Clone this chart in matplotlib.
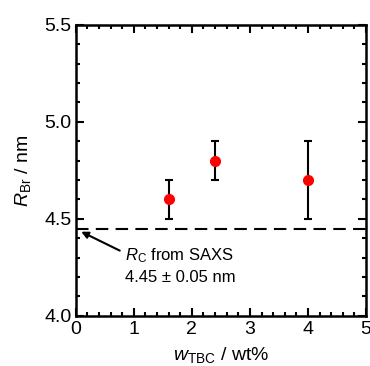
import matplotlib
matplotlib.use("Agg")
import matplotlib.pyplot as plt
from matplotlib.ticker import MultipleLocator

plt.rcParams["font.family"] = ["Liberation Sans", "DejaVu Sans"]
plt.rcParams["mathtext.fontset"] = "custom"
plt.rcParams["mathtext.it"] = "Liberation Sans:italic"
plt.rcParams["mathtext.rm"] = "Liberation Sans"

# data
w_tbc = [1.6, 2.4, 4.0]
r_br = [4.6, 4.8, 4.7]
r_err = [0.1, 0.1, 0.2]
r_c = 4.45

fig = plt.figure(figsize=(3.70, 3.66), dpi=100)
ax = fig.add_axes([0.205, 0.137, 0.784, 0.795])

ax.axhline(r_c, color="black", lw=1.5, ls=(0, (6, 3.5)))
ax.errorbar(w_tbc, r_br, yerr=r_err, fmt="o", color="red", ms=7,
            ecolor="black", elinewidth=1.5, capsize=3, capthick=1.5, zorder=3)

ax.annotate("", xy=(0.05, 4.44), xytext=(0.8, 4.33),
            arrowprops=dict(arrowstyle="-|>", color="black", lw=1.5,
                            mutation_scale=10))
ax.text(0.84, 4.31, r"$R_\mathrm{C}$ from SAXS", fontsize=12, va="center")
ax.text(0.84, 4.2, "4.45 ± 0.05 nm", fontsize=12, va="center")

ax.set_xlim(0, 5)
ax.set_ylim(4.0, 5.5)
ax.xaxis.set_major_locator(MultipleLocator(1))
ax.xaxis.set_minor_locator(MultipleLocator(0.2))
ax.yaxis.set_major_locator(MultipleLocator(0.5))
ax.yaxis.set_minor_locator(MultipleLocator(0.1))
ax.tick_params(which="both", direction="in", top=True, right=True, width=1.5)
ax.tick_params(which="major", length=6, labelsize=14)
ax.tick_params(which="minor", length=3)
ax.tick_params(axis="y", which="major", pad=3)
for s in ax.spines.values():
    s.set_linewidth(1.8)

ax.set_xlabel(r"$w_\mathrm{TBC}$ / wt%", fontsize=14, labelpad=5)
ax.set_ylabel(r"$R_\mathrm{Br}$ / nm", fontsize=14, labelpad=8)

fig.savefig("out.png", dpi=100)
